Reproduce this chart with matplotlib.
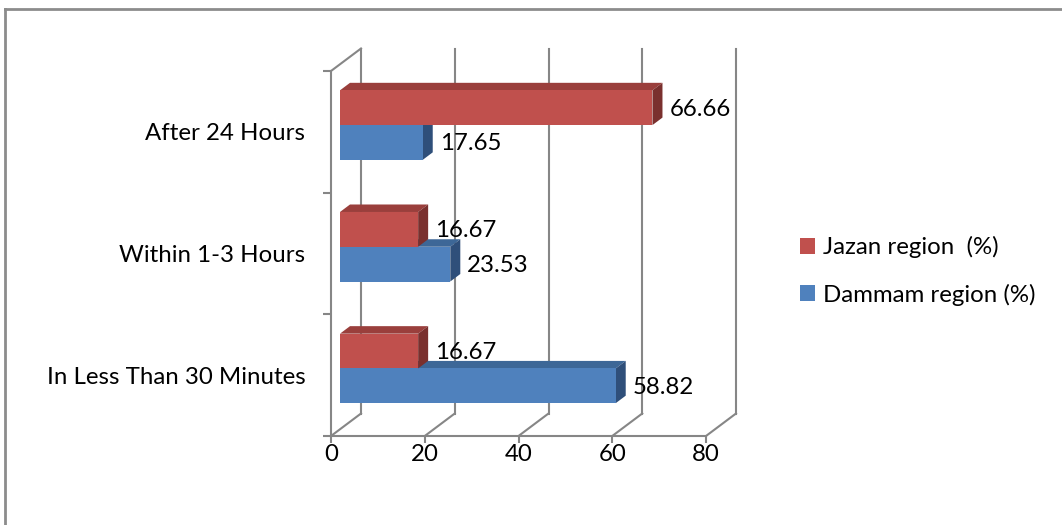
import matplotlib
matplotlib.use("Agg")
import matplotlib.pyplot as plt
from matplotlib.patches import Patch
from matplotlib.lines import Line2D

plt.rcParams['font.family'] = ['Lato', 'DejaVu Sans']

categories = ["In Less Than 30 Minutes", "Within 1-3 Hours", "After 24 Hours"]
dammam = [58.82, 23.53, 17.65]
jazan = [16.67, 16.67, 66.66]
series_names = ["Jazan region  (%)", "Dammam region (%)"]
x_ticks = [0, 20, 40, 60, 80]

GRID = "#868686"
RED = ("#C0504D", "#9A3F3C", "#7A302E")    # front, top, side
BLUE = ("#4F81BD", "#3D6797", "#2F4F7A")
FS = 17.3

W, H = 1062, 525
fig = plt.figure(figsize=(W / 100, H / 100), dpi=100)

# front plane of the plot box, in pixels
x0_px, x1_px = 331, 706
y0_px, y1_px = 436, 71
ax = fig.add_axes([x0_px / W, (H - y0_px) / H, (x1_px - x0_px) / W, (y0_px - y1_px) / H])
xmax, n = 80, len(categories)
ax.set_xlim(0, xmax)
ax.set_ylim(0, n)

# depth of the box expressed in data units
px_x = (x1_px - x0_px) / xmax
px_y = (y0_px - y1_px) / n
DX = 30 / px_x
DY = 22.5 / px_y

# back wall gridlines and floor diagonals
for v in x_ticks:
    ax.plot([v + DX, v + DX], [DY, n + DY], color=GRID, lw=1.5, clip_on=False, zorder=1)
    ax.plot([v, v + DX], [0, DY], color=GRID, lw=1.5, clip_on=False, zorder=1)
# left wall top edge
ax.plot([0, DX], [n, n + DY], color=GRID, lw=1.5, clip_on=False, zorder=1)

# bars sit a bit behind the front plane
f0, fd = 0.3, 1 / 3
sx, sy = f0 * DX, f0 * DY
dx, dy = fd * DX, fd * DY
h = 1 / 1.75 / 2


def bar3d(v, yb, colors):
    front, top, side = colors
    xs = sx
    xb = yb + sy
    xt = xb + h
    ax.fill([xs + dx, v + xs + dx, v + xs, xs], [xt + dy, xt + dy, xt, xt],
            color=top, lw=0, clip_on=False, zorder=3)
    ax.fill([v + xs, v + xs + dx, v + xs + dx, v + xs], [xb, xb + dy, xt + dy, xt],
            color=side, lw=0, clip_on=False, zorder=3)
    ax.fill([xs, v + xs, v + xs, xs], [xb, xb, xt, xt],
            color=front, lw=0, clip_on=False, zorder=3)
    ax.text(v + xs + dx + 7 / px_x, (xb + xt) / 2 - 1.5 / px_y, f"{v:.2f}",
            fontsize=FS, color="black", ha="left", va="center", zorder=5)


for i in range(n):
    mid = i + 0.5
    bar3d(dammam[i], mid - h, BLUE)
    bar3d(jazan[i], mid, RED)

# axes styling
for s in ("top", "right"):
    ax.spines[s].set_visible(False)
for s in ("left", "bottom"):
    ax.spines[s].set_color(GRID)
    ax.spines[s].set_linewidth(1.5)
    ax.spines[s].set_zorder(2)

ax.set_xticks(x_ticks)
ax.set_xticklabels([str(t) for t in x_ticks])
ax.tick_params(axis="x", length=5, width=1.5, color=GRID, labelsize=FS, pad=1)

ax.set_yticks(range(n + 1))
ax.set_yticklabels([])
ax.set_yticks([i + 0.5 for i in range(n)], minor=True)
ax.set_yticklabels(categories, minor=True)
ax.tick_params(axis="y", which="major", length=5.5, width=1.5, color=GRID)
ax.tick_params(axis="y", which="minor", length=0, labelsize=FS, pad=18.5)
ax.patch.set_visible(False)

# legend
handles = [Patch(facecolor=RED[0], edgecolor="none"),
           Patch(facecolor=BLUE[0], edgecolor="none")]
fig.legend(handles, series_names, loc="center left",
           bbox_to_anchor=(800 / W, 1 - 271 / H), frameon=False,
           fontsize=FS, handlelength=0.62, handleheight=0.62,
           handletextpad=0.35, labelspacing=1.05, borderpad=0, borderaxespad=0)

# chart border (left and top edges)
fig.add_artist(Line2D([5 / W, 5 / W], [0, 1 - 9 / H], color="#8C8C8C", lw=2))
fig.add_artist(Line2D([5 / W, 1], [1 - 9 / H, 1 - 9 / H], color="#8C8C8C", lw=2))

fig.savefig("out.png", dpi=100)
